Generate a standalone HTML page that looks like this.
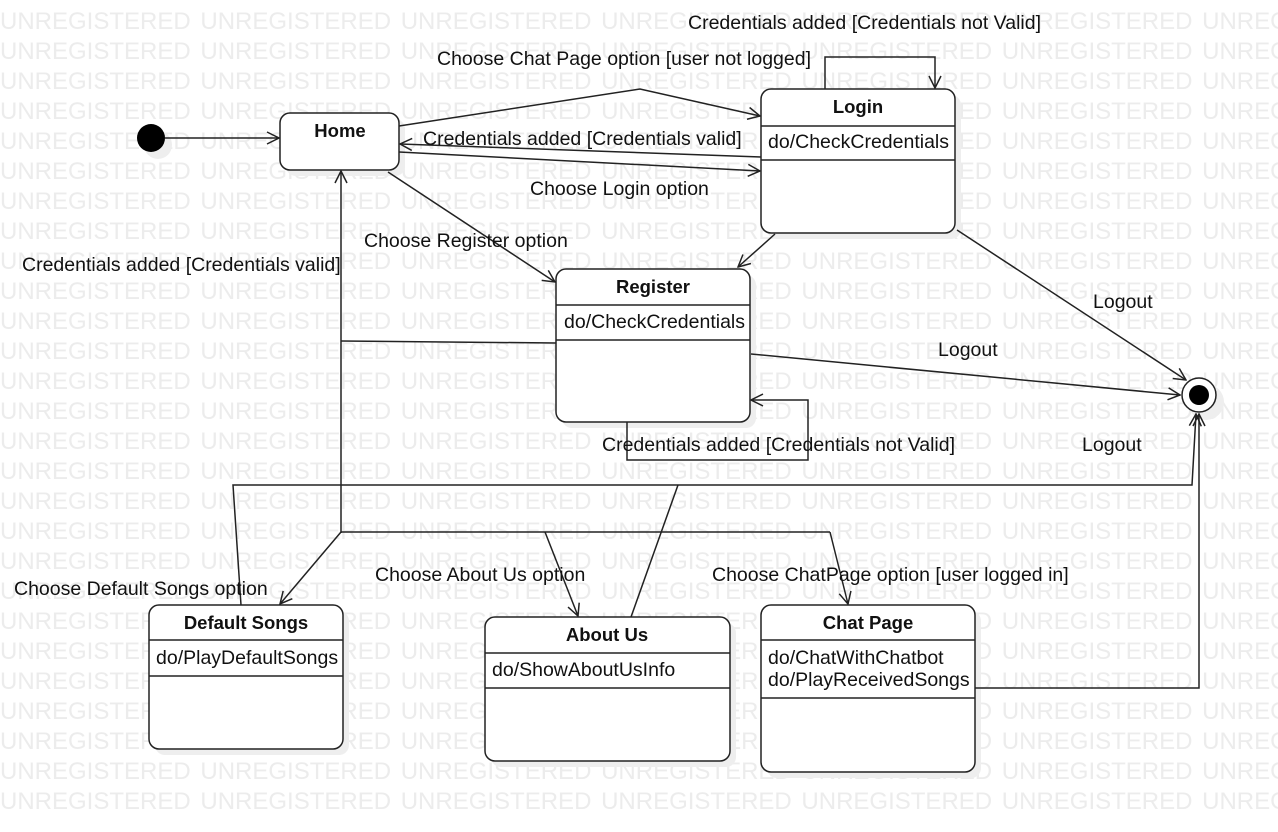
<!DOCTYPE html>
<html><head><meta charset="utf-8"><style>
html,body{margin:0;padding:0;background:#fff;}
svg{display:block;}
text{font-family:"Liberation Sans",Arial,sans-serif;}
.wm{font-size:24px;fill:#ececec;word-spacing:3px;}
.lb{font-size:19.5px;fill:#111;}
.t{font-size:18.5px;font-weight:bold;fill:#111;}
.l{stroke:#222;stroke-width:1.5;fill:none;}
.b{stroke:#222;stroke-width:1.5;fill:#fff;}
</style></head><body>
<svg width="1278" height="832" viewBox="0 0 1278 832" xmlns="http://www.w3.org/2000/svg">
<defs>
<marker id="a" markerWidth="14" markerHeight="14" refX="13" refY="7" orient="auto" markerUnits="userSpaceOnUse">
<path d="M1,1 L13,7 L1,13" fill="none" stroke="#222" stroke-width="1.5"/></marker>
</defs>
<g class="wm">
<text x="0" y="29">UNREGISTERED UNREGISTERED UNREGISTERED UNREGISTERED UNREGISTERED UNREGISTERED UNREGISTERED</text>
<text x="0" y="59">UNREGISTERED UNREGISTERED UNREGISTERED UNREGISTERED UNREGISTERED UNREGISTERED UNREGISTERED</text>
<text x="0" y="89">UNREGISTERED UNREGISTERED UNREGISTERED UNREGISTERED UNREGISTERED UNREGISTERED UNREGISTERED</text>
<text x="0" y="119">UNREGISTERED UNREGISTERED UNREGISTERED UNREGISTERED UNREGISTERED UNREGISTERED UNREGISTERED</text>
<text x="0" y="149">UNREGISTERED UNREGISTERED UNREGISTERED UNREGISTERED UNREGISTERED UNREGISTERED UNREGISTERED</text>
<text x="0" y="179">UNREGISTERED UNREGISTERED UNREGISTERED UNREGISTERED UNREGISTERED UNREGISTERED UNREGISTERED</text>
<text x="0" y="209">UNREGISTERED UNREGISTERED UNREGISTERED UNREGISTERED UNREGISTERED UNREGISTERED UNREGISTERED</text>
<text x="0" y="239">UNREGISTERED UNREGISTERED UNREGISTERED UNREGISTERED UNREGISTERED UNREGISTERED UNREGISTERED</text>
<text x="0" y="269">UNREGISTERED UNREGISTERED UNREGISTERED UNREGISTERED UNREGISTERED UNREGISTERED UNREGISTERED</text>
<text x="0" y="299">UNREGISTERED UNREGISTERED UNREGISTERED UNREGISTERED UNREGISTERED UNREGISTERED UNREGISTERED</text>
<text x="0" y="329">UNREGISTERED UNREGISTERED UNREGISTERED UNREGISTERED UNREGISTERED UNREGISTERED UNREGISTERED</text>
<text x="0" y="359">UNREGISTERED UNREGISTERED UNREGISTERED UNREGISTERED UNREGISTERED UNREGISTERED UNREGISTERED</text>
<text x="0" y="389">UNREGISTERED UNREGISTERED UNREGISTERED UNREGISTERED UNREGISTERED UNREGISTERED UNREGISTERED</text>
<text x="0" y="419">UNREGISTERED UNREGISTERED UNREGISTERED UNREGISTERED UNREGISTERED UNREGISTERED UNREGISTERED</text>
<text x="0" y="449">UNREGISTERED UNREGISTERED UNREGISTERED UNREGISTERED UNREGISTERED UNREGISTERED UNREGISTERED</text>
<text x="0" y="479">UNREGISTERED UNREGISTERED UNREGISTERED UNREGISTERED UNREGISTERED UNREGISTERED UNREGISTERED</text>
<text x="0" y="509">UNREGISTERED UNREGISTERED UNREGISTERED UNREGISTERED UNREGISTERED UNREGISTERED UNREGISTERED</text>
<text x="0" y="539">UNREGISTERED UNREGISTERED UNREGISTERED UNREGISTERED UNREGISTERED UNREGISTERED UNREGISTERED</text>
<text x="0" y="569">UNREGISTERED UNREGISTERED UNREGISTERED UNREGISTERED UNREGISTERED UNREGISTERED UNREGISTERED</text>
<text x="0" y="599">UNREGISTERED UNREGISTERED UNREGISTERED UNREGISTERED UNREGISTERED UNREGISTERED UNREGISTERED</text>
<text x="0" y="629">UNREGISTERED UNREGISTERED UNREGISTERED UNREGISTERED UNREGISTERED UNREGISTERED UNREGISTERED</text>
<text x="0" y="659">UNREGISTERED UNREGISTERED UNREGISTERED UNREGISTERED UNREGISTERED UNREGISTERED UNREGISTERED</text>
<text x="0" y="689">UNREGISTERED UNREGISTERED UNREGISTERED UNREGISTERED UNREGISTERED UNREGISTERED UNREGISTERED</text>
<text x="0" y="719">UNREGISTERED UNREGISTERED UNREGISTERED UNREGISTERED UNREGISTERED UNREGISTERED UNREGISTERED</text>
<text x="0" y="749">UNREGISTERED UNREGISTERED UNREGISTERED UNREGISTERED UNREGISTERED UNREGISTERED UNREGISTERED</text>
<text x="0" y="779">UNREGISTERED UNREGISTERED UNREGISTERED UNREGISTERED UNREGISTERED UNREGISTERED UNREGISTERED</text>
<text x="0" y="809">UNREGISTERED UNREGISTERED UNREGISTERED UNREGISTERED UNREGISTERED UNREGISTERED UNREGISTERED</text>
</g>

<!-- shadows -->
<g fill="#eee">
<rect x="286" y="119" width="119" height="57" rx="10"/>
<rect x="767" y="95" width="194" height="144" rx="10"/>
<rect x="562" y="275" width="194" height="153" rx="10"/>
<rect x="155" y="611" width="194" height="144" rx="10"/>
<rect x="491" y="623" width="245" height="144" rx="10"/>
<rect x="767" y="611" width="214" height="167" rx="10"/>
<circle cx="158" cy="145" r="14"/>
<circle cx="1206" cy="402" r="18"/>
</g>

<!-- connectors -->
<line class="l" x1="165" y1="138" x2="279" y2="138" marker-end="url(#a)"/>
<polyline class="l" points="399,126 640,89 760,116" marker-end="url(#a)"/>
<line class="l" x1="761" y1="157" x2="400" y2="144" marker-end="url(#a)"/>
<line class="l" x1="399" y1="152" x2="760" y2="171" marker-end="url(#a)"/>
<polyline class="l" points="825,89 825,57 935,57 935,88" marker-end="url(#a)"/>
<line class="l" x1="388" y1="172" x2="555" y2="282" marker-end="url(#a)"/>
<line class="l" x1="775" y1="234" x2="738" y2="267" marker-end="url(#a)"/>
<line class="l" x1="957" y1="230" x2="1186" y2="380" marker-end="url(#a)"/>
<line class="l" x1="751" y1="354" x2="1180" y2="395" marker-end="url(#a)"/>
<polyline class="l" points="627,422 627,460 808,460 808,400 751,400" marker-end="url(#a)"/>
<polyline class="l" points="556,343 341,341" />
<line class="l" x1="341" y1="533" x2="341" y2="171" marker-end="url(#a)"/>
<line class="l" x1="341" y1="532" x2="830" y2="532"/>
<line class="l" x1="341" y1="532" x2="280" y2="604" marker-end="url(#a)"/>
<line class="l" x1="545" y1="532" x2="578" y2="616" marker-end="url(#a)"/>
<line class="l" x1="830" y1="532" x2="848" y2="604" marker-end="url(#a)"/>
<polyline class="l" points="241,605 233,485 1192,485 1196,414" marker-end="url(#a)"/>
<line class="l" x1="631" y1="617" x2="678" y2="485"/>
<polyline class="l" points="975,688 1199,688 1199,414" marker-end="url(#a)"/>

<!-- states -->
<circle cx="151" cy="138" r="14" fill="#000"/>
<circle cx="1199" cy="395" r="17" fill="#fff" stroke="#222" stroke-width="1.5"/>
<circle cx="1199" cy="395" r="10" fill="#000"/>

<rect class="b" x="280" y="113" width="119" height="57" rx="10"/>
<text class="t" x="340" y="137" text-anchor="middle">Home</text>

<rect class="b" x="761" y="89" width="194" height="144" rx="10"/>
<line class="l" x1="761" y1="126" x2="955" y2="126"/>
<line class="l" x1="761" y1="160" x2="955" y2="160"/>
<text class="t" x="858" y="113" text-anchor="middle">Login</text>
<text class="lb" x="768" y="148">do/CheckCredentials</text>

<rect class="b" x="556" y="269" width="194" height="153" rx="10"/>
<line class="l" x1="556" y1="305" x2="750" y2="305"/>
<line class="l" x1="556" y1="340" x2="750" y2="340"/>
<text class="t" x="653" y="293" text-anchor="middle">Register</text>
<text class="lb" x="564" y="328">do/CheckCredentials</text>

<rect class="b" x="149" y="605" width="194" height="144" rx="10"/>
<line class="l" x1="149" y1="640" x2="343" y2="640"/>
<line class="l" x1="149" y1="676" x2="343" y2="676"/>
<text class="t" x="246" y="629" text-anchor="middle">Default Songs</text>
<text class="lb" x="156" y="664">do/PlayDefaultSongs</text>

<rect class="b" x="485" y="617" width="245" height="144" rx="10"/>
<line class="l" x1="485" y1="653" x2="730" y2="653"/>
<line class="l" x1="485" y1="688" x2="730" y2="688"/>
<text class="t" x="607" y="641" text-anchor="middle">About Us</text>
<text class="lb" x="492" y="676">do/ShowAboutUsInfo</text>

<rect class="b" x="761" y="605" width="214" height="167" rx="10"/>
<line class="l" x1="761" y1="640" x2="975" y2="640"/>
<line class="l" x1="761" y1="698" x2="975" y2="698"/>
<text class="t" x="868" y="629" text-anchor="middle">Chat Page</text>
<text class="lb" x="768" y="664">do/ChatWithChatbot</text>
<text class="lb" x="768" y="686">do/PlayReceivedSongs</text>

<!-- labels -->
<text class="lb" x="688" y="29">Credentials added [Credentials not Valid]</text>
<text class="lb" x="437" y="65">Choose Chat Page option [user not logged]</text>
<text class="lb" x="423" y="145">Credentials added [Credentials valid]</text>
<text class="lb" x="530" y="195">Choose Login option</text>
<text class="lb" x="364" y="247">Choose Register option</text>
<text class="lb" x="22" y="271">Credentials added [Credentials valid]</text>
<text class="lb" x="1093" y="308">Logout</text>
<text class="lb" x="938" y="356">Logout</text>
<text class="lb" x="602" y="451">Credentials added [Credentials not Valid]</text>
<text class="lb" x="1082" y="451">Logout</text>
<text class="lb" x="14" y="595">Choose Default Songs option</text>
<text class="lb" x="375" y="581">Choose About Us option</text>
<text class="lb" x="712" y="581">Choose ChatPage option [user logged in]</text>
</svg>
</body></html>
